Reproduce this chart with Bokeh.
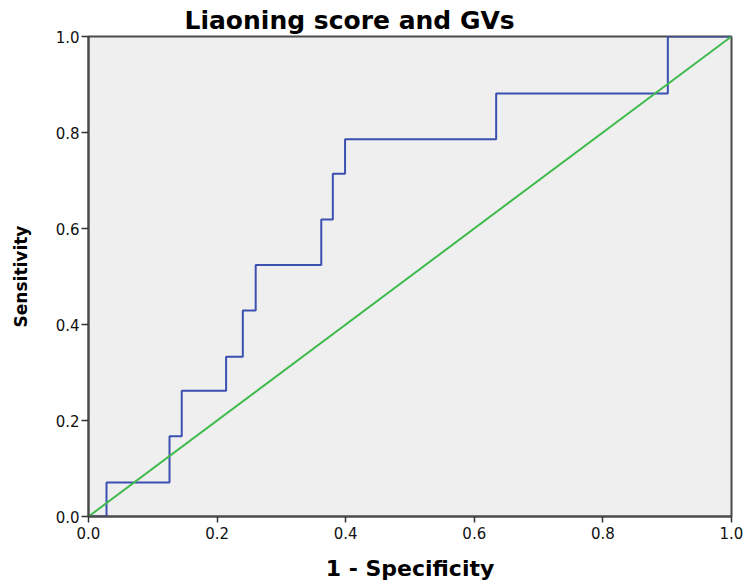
from bokeh.plotting import figure
from bokeh.models import Range1d, FixedTicker, PrintfTickFormatter
from bokeh.embed import file_html
from bokeh.resources import INLINE

# ROC curve steps (1 - specificity, sensitivity), mode "after"
fpr = [0.0, 0.028, 0.126, 0.145, 0.214, 0.240, 0.260, 0.362, 0.380, 0.399, 0.634, 0.901, 1.0]
tpr = [0.0, 0.071, 0.167, 0.262, 0.333, 0.429, 0.524, 0.619, 0.714, 0.786, 0.881, 1.0, 1.0]
# reference (chance) line
ref_x = [0.0, 1.0]
ref_y = [0.0, 1.0]
ticks = [0.0, 0.2, 0.4, 0.6, 0.8, 1.0]
title_text = "Liaoning score and GVs"
x_label = "1 - Specificity"
y_label = "Sensitivity"

p = figure(width=743, height=583, output_backend="svg", toolbar_location=None,
           x_range=Range1d(0, 1), y_range=Range1d(0, 1),
           min_border_left=88, min_border_right=12, min_border_top=36, min_border_bottom=67)
p.background_fill_color = "#efefef"
p.border_fill_color = "white"
p.outline_line_color = "#4a4a4a"
p.outline_line_width = 2
p.grid.visible = False

p.step(fpr, tpr, mode="after", line_color="#3b50b0", line_width=2)
p.line(ref_x, ref_y, line_color="#3fba4c", line_width=2)

for ax in (p.xaxis[0], p.yaxis[0]):
    ax.ticker = FixedTicker(ticks=ticks)
    ax.formatter = PrintfTickFormatter(format="%.1f")
    ax.minor_tick_line_color = None
    ax.major_tick_in = 0
    ax.axis_line_color = "#4a4a4a"
    ax.axis_line_width = 2
    ax.major_tick_line_color = "#333333"
    ax.major_tick_line_width = 1.5
    ax.major_label_text_font = "DejaVu Sans"
    ax.major_label_text_font_size = "15px"
    ax.major_label_text_color = "#111111"
    ax.axis_label_text_font = "DejaVu Sans"
    ax.axis_label_text_font_style = "bold"
    ax.axis_label_text_color = "black"

p.xaxis.axis_label = x_label
p.yaxis.axis_label = y_label
p.xaxis.major_tick_out = 6
p.yaxis.major_tick_out = 7
p.xaxis.major_label_standoff = 4
p.yaxis.major_label_standoff = 2
p.xaxis.axis_label_text_font_size = "22px"
p.yaxis.axis_label_text_font_size = "17px"
p.xaxis.axis_label_standoff = 14
p.yaxis.axis_label_standoff = 22

p.title.text = title_text
p.title.align = "left"
p.title.offset = 96
p.title.standoff = 4
p.title.text_font = "DejaVu Sans"
p.title.text_font_style = "bold"
p.title.text_font_size = "25px"
p.title.text_color = "black"

open("out.html", "w").write(file_html(p, INLINE))
